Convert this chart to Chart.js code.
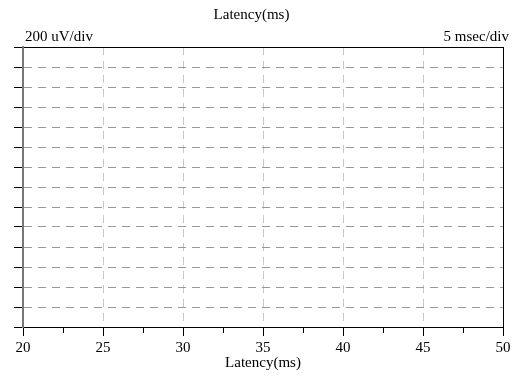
<!DOCTYPE html>
<html>
<head>
<meta charset="utf-8">
<script src="https://cdn.jsdelivr.net/npm/chart.js@4/dist/chart.umd.min.js"></script>
<style>
    html, body { margin:0; padding:0; background:#fff; }
    #wrap { width:526px; height:377px; }
</style>
</head>
<body>
<div id="wrap"><canvas id="latencyChart" width="526" height="377"></canvas></div>
<script>
// Eksen verileri
const latencyPoints = [];      // kayıt yok, grafik boş
const amplitudePoints = [];
const xRange = [20, 50];
const xMajorStep = 5;
const xMinorStep = 2.5;
const yRange = [0, 14];        // 14 bölme
const titleText = 'Latency(ms)';
const xAxisTitle = 'Latency(ms)';
const ampLabel = '200 uV/div';
const timeLabel = '5 msec/div';

const serif = "'Liberation Serif', 'Times New Roman', serif";

// Köşe etiketleri
const cornerLabels = {
    id: 'cornerLabels',
    afterDraw(chart){
        const c = chart.ctx;
        c.save();
        c.font = '15px ' + serif;
        c.fillStyle = '#000';
        c.textBaseline = 'alphabetic';
        c.textAlign = 'left';
        c.fillText(ampLabel, 25, 41);
        c.textAlign = 'right';
        c.fillText(timeLabel, 509, 41);
        c.restore();
    }
};

const isMajor = v => Math.abs(v % xMajorStep) < 1e-6;

const ctx = document.getElementById('latencyChart').getContext('2d');
const chart = new Chart(ctx, {
    type: 'scatter',
    data: {
        datasets: [{
            data: latencyPoints.map((x,i)=>({x:x, y:amplitudePoints[i]})),
            borderColor:'#000', showLine:true, pointRadius:0
        }]
    },
    options: {
        responsive:false,
        animation:false,
        layout:{ padding:{ left:0, top:0, right:23, bottom:0 } },
        plugins:{
            legend:{ display:false },
            tooltip:{ enabled:false },
            title:{
                display:true, text:titleText, color:'#000',
                font:{ family:serif, size:15, weight:'normal', lineHeight:1.2 },
                padding:{ top:6, bottom:23 }
            }
        },
        scales:{
            x:{
                type:'linear', min:xRange[0], max:xRange[1],
                afterFit(scale){ scale.height = 50; },
                ticks:{
                    stepSize:xMinorStep, autoSkip:false, maxRotation:0, padding:3,
                    color:'#000', font:{ family:serif, size:15 },
                    callback: v => isMajor(v) ? v : ''
                },
                grid:{
                    drawTicks:true, tickLength:9, lineWidth:1, tickWidth:1, tickColor:'#000',
                    color: c => {
                        const v = c.tick ? c.tick.value : 0;
                        if(!isMajor(v) || v === xRange[0]) return 'rgba(0,0,0,0)';
                        if(v === xRange[1]) return '#000';
                        return '#c8c8c8';
                    },
                    tickBorderDash: c => (c.tick && isMajor(c.tick.value)) ? [] : [5, 40]
                },
                border:{
                    display:true, color:'#000', width:1,
                    dash: c => (c.tick && c.tick.value === xRange[1]) ? [] : [8, 6]
                },
                title:{
                    display:true, text:xAxisTitle, color:'#000',
                    font:{ family:serif, size:15, lineHeight:1.2 },
                    padding:{ top:0, bottom:5 }
                }
            },
            y:{
                type:'linear', min:yRange[0], max:yRange[1],
                afterFit(scale){ scale.width = 23; },
                ticks:{ stepSize:1, display:false },
                grid:{
                    drawTicks:true, tickLength:9, lineWidth:1, tickWidth:1, tickColor:'#000',
                    color: c => {
                        const v = c.tick ? c.tick.value : 0;
                        if(v === yRange[1]) return '#000';
                        if(v === yRange[0]) return 'rgba(0,0,0,0)';
                        return '#9a9a95';
                    }
                },
                border:{
                    display:true, color:'#777', width:2,
                    dash: c => (c.tick && c.tick.value === yRange[1]) ? [] : [8, 6]
                }
            }
        }
    },
    plugins:[cornerLabels]
});
</script>
</body>
</html>
